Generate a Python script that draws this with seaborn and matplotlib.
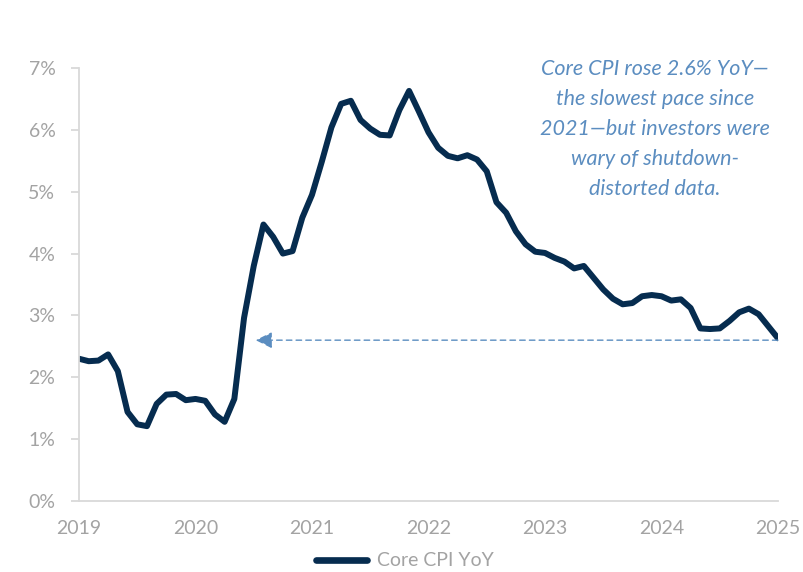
import numpy as np
import pandas as pd
import seaborn as sns
import matplotlib.pyplot as plt

# -----------------------------
# DATA (monthly core CPI YoY, %)
# -----------------------------
# month index along the x axis; the shutdown month (index 71) has no reading
month = [i for i in range(73) if i != 71]
core_cpi = [2.30, 2.26, 2.27, 2.37, 2.10, 1.44, 1.24, 1.21, 1.57, 1.72,
            1.73, 1.63, 1.65, 1.62, 1.40, 1.28, 1.65, 2.96, 3.80, 4.47,
            4.27, 4.00, 4.04, 4.58, 4.95, 5.48, 6.04, 6.42, 6.47, 6.16,
            6.02, 5.92, 5.91, 6.32, 6.63, 6.30, 5.96, 5.71, 5.58, 5.54,
            5.59, 5.52, 5.33, 4.83, 4.66, 4.36, 4.15, 4.03, 4.01, 3.93,
            3.87, 3.76, 3.80, 3.61, 3.42, 3.27, 3.18, 3.20, 3.31, 3.33,
            3.31, 3.24, 3.26, 3.12, 2.79, 2.78, 2.79, 2.91, 3.05, 3.11,
            3.02, 2.63]
year_ticks = [0, 12, 24, 36, 48, 60, 72]
year_labels = ['2019', '2020', '2021', '2022', '2023', '2024', '2025']
y_ticks = [0, 1, 2, 3, 4, 5, 6, 7]
arrow_tip = 18.2  # month index where the reference arrow points
arrow_level = 2.6  # latest reading, as quoted in the note

note = ("Core CPI rose 2.6% YoY\u2014\nthe slowest pace since\n"
        "2021\u2014but investors were\nwary of shutdown-\ndistorted data.")

df = pd.DataFrame({'month': month, 'Core CPI YoY': core_cpi})

# -----------------------------
# STYLE
# -----------------------------
sns.set_style('white')
plt.rcParams['font.family'] = ['Lato', 'DejaVu Sans']

navy = '#062c4f'
grey = '#a3a3a3'
axis_grey = '#d9d9d9'
note_blue = '#5b8dc0'

fig = plt.figure(figsize=(8.04, 5.72), dpi=100)
ax = fig.add_axes([79 / 804, 1 - 501 / 572, 699 / 804, 433 / 572])

sns.lineplot(data=df, x='month', y='Core CPI YoY', color=navy, linewidth=4.3,
             label='Core CPI YoY', ax=ax)

# dashed arrow at the latest reading
ax.annotate('', xy=(arrow_tip, arrow_level), xytext=(month[-1], arrow_level),
            arrowprops=dict(arrowstyle='-|>', color=note_blue, lw=1,
                            linestyle=(0, (4, 3)), mutation_scale=25,
                            shrinkA=0, shrinkB=0))

ax.set_xlim(0, 72)
ax.set_ylim(0, 7)
ax.set_xticks(year_ticks)
ax.set_xticklabels(year_labels)
ax.set_yticks(y_ticks)
ax.set_yticklabels([f'{v}%' for v in y_ticks])
ax.set_xlabel('')
ax.set_ylabel('')

for side in ['top', 'right']:
    ax.spines[side].set_visible(False)
for side in ['left', 'bottom']:
    ax.spines[side].set_color(axis_grey)
    ax.spines[side].set_linewidth(1.3)

ax.tick_params(axis='y', length=6, width=1.3, color=axis_grey, pad=11,
               labelsize=14, labelcolor=grey, left=True)
ax.tick_params(axis='x', length=0, pad=14, labelsize=14, labelcolor=grey)

leg = ax.legend(loc='center', bbox_to_anchor=(405 / 804, 1 - 561 / 572),
                bbox_transform=fig.transFigure, frameon=False, fontsize=14,
                handlelength=2.6, handletextpad=0.5, borderaxespad=0)
for t in leg.get_texts():
    t.set_color(grey)
for h in leg.get_lines():
    h.set_linewidth(4.8)
    h.set_solid_capstyle('round')

fig.text(655 / 804, 1 - 59 / 572, note, ha='center', va='top',
         fontsize=15.5, style='italic', color=note_blue, linespacing=1.62)

fig.savefig('out.png', dpi=100)
